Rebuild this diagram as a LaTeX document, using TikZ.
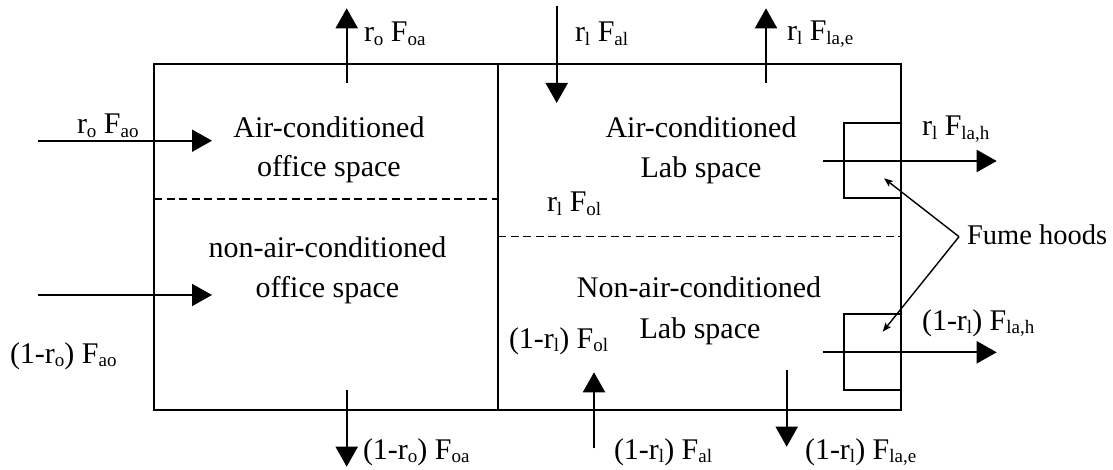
\documentclass[tikz,border=0pt]{standalone}
\usepackage{fontspec}
\setmainfont{Liberation Serif}
\usetikzlibrary{arrows.meta}
\newcommand\lowsub[1]{\raisebox{-0.12em}{\fontsize{19}{20}\selectfont #1}}
\begin{document}
\begin{tikzpicture}[x=1pt,y=-1pt,
  every node/.style={font=\fontsize{30}{36}\selectfont, inner sep=0pt, outer sep=0pt},
  lbl/.style={anchor=base west},
  ctr/.style={anchor=base},
  wall/.style={line width=2pt},
  divline/.style={line width=1.6pt, dash pattern=on 8pt off 4.5pt},
  flow/.style={line width=2pt, -{Triangle[length=20pt,width=22pt]}},
  pointer/.style={line width=1.4pt, -{Stealth[length=9pt,width=7pt,inset=2pt]}}]
\useasboundingbox (0,0) rectangle (1113,470);

% frame
\coordinate (tl) at (154,64.3);
\coordinate (br) at (900.7,410);
\coordinate (dt) at (498.3,64.3);
\coordinate (db) at (498.3,410);
\draw[wall] (tl) rectangle (br);
\draw[wall] (dt) -- (db);
\coordinate (ld1) at (154,199);
\coordinate (ld2) at (498.3,199);
\coordinate (rd1) at (498.3,236.7);
\coordinate (rd2) at (900.7,236.7);
\draw[divline] (ld1) -- (ld2);
\draw[divline] (rd1) -- (rd2);

% fume hoods
\coordinate (h1a) at (844.3,122.7);
\coordinate (h1b) at (900.7,198.3);
\coordinate (h2a) at (844.3,314);
\coordinate (h2b) at (900.7,390);
\draw[wall] (h1b) -- (h1a |- h1b) -- (h1a) -- (h1b |- h1a);
\draw[wall] (h2b) -- (h2a |- h2b) -- (h2a) -- (h2b |- h2a);

% space texts
\node[ctr] (aco1) at (329,138) {Air-conditioned};
\node[ctr] (aco2) at (329,177) {office space};
\node[ctr] (nco1) at (327.5,258) {non-air-conditioned};
\node[ctr] (nco2) at (327.5,298) {office space};
\node[ctr] (acl1) at (701,138) {Air-conditioned};
\node[ctr] (acl2) at (701,178) {Lab space};
\node[ctr] (ncl1) at (699,298) {Non-air-conditioned};
\node[ctr] (ncl2) at (700,338) {Lab space};

% flow labels
\node[lbl] (Lroa) at (364,42) {r\lowsub{o} F\lowsub{oa}};
\node[lbl] (Lrao) at (77,134) {r\lowsub{o} F\lowsub{ao}};
\node[lbl] (Lral) at (575,42) {r\lowsub{l} F\lowsub{al}};
\node[lbl] (Lrle) at (787,41) {r\lowsub{l} F\lowsub{la,e}};
\node[lbl] (Lrol) at (547,212) {r\lowsub{l} F\lowsub{ol}};
\node[lbl] (Lrlh) at (922,136) {r\lowsub{l} F\lowsub{la,h}};
\node[lbl, font=\fontsize{28.5}{34}\selectfont] (fume) at (967,245) {Fume hoods};
\node[lbl] (Lnao) at (10,363) {(1-r\lowsub{o}) F\lowsub{ao}};
\node[lbl] (Lnol) at (509,348) {(1-r\lowsub{l}) F\lowsub{ol}};
\node[lbl] (Lnlh) at (922,330) {(1-r\lowsub{l}) F\lowsub{la,h}};
\node[lbl] (Lnoa) at (363,459) {(1-r\lowsub{o}) F\lowsub{oa}};
\node[lbl] (Lnal) at (614,459) {(1-r\lowsub{l}) F\lowsub{al}};
\node[lbl] (Lnle) at (805,459) {(1-r\lowsub{l}) F\lowsub{la,e}};

% flow arrows
\coordinate (a1s) at (346.7,82.7);   \coordinate (a1e) at (346.7,8.3);
\coordinate (a2s) at (37.7,140.7);   \coordinate (a2e) at (212,140.7);
\coordinate (a3s) at (37.7,295);     \coordinate (a3e) at (212,295);
\coordinate (a4s) at (346.7,390);    \coordinate (a4e) at (346.7,466.7);
\coordinate (a5s) at (556.7,6);      \coordinate (a5e) at (556.7,103);
\coordinate (a6s) at (766,82.7);     \coordinate (a6e) at (766,8.3);
\coordinate (a7s) at (823.3,161);    \coordinate (a7e) at (996.7,161);
\coordinate (a8s) at (823.3,352.3);  \coordinate (a8e) at (996.7,352.3);
\coordinate (a9s) at (594,448.3);    \coordinate (a9e) at (594,372.3);
\coordinate (a10s) at (786.7,370);   \coordinate (a10e) at (786.7,446.7);
\foreach \i in {1,...,10} \draw[flow] (a\i s) -- (a\i e);

% pointers to fume hoods
\coordinate (vx) at (959,236.7);
\coordinate (p1) at (884,178.3);
\coordinate (p2) at (882.7,331.7);
\draw[pointer] (vx) -- (p1);
\draw[pointer] (vx) -- (p2);
\end{tikzpicture}
\end{document}
